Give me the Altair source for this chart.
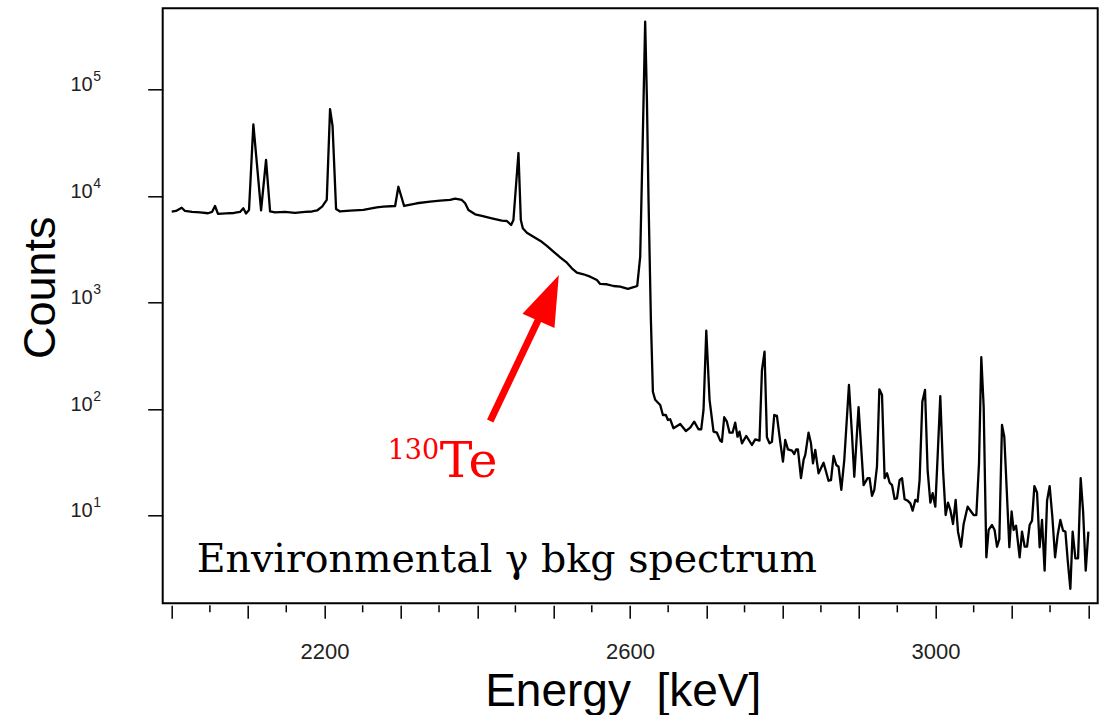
import altair as alt
import pandas as pd

# Gamma background spectrum: energy (keV) and counts per bin
energy_kev = [
    2000.0, 2005.6, 2013.1, 2017.4, 2026.6, 2037.1, 2047.5, 2052.8, 2056.7, 2060.6,
    2071.1, 2081.5, 2089.4, 2093.8, 2097.3, 2101.2, 2106.9, 2117.0, 2123.5, 2128.8,
    2135.3, 2148.4, 2161.5, 2174.6, 2183.8, 2190.3, 2196.9, 2203.0, 2207.3, 2210.6,
    2215.2, 2220.4, 2233.5, 2251.0, 2268.5, 2277.2, 2292.5, 2296.8, 2304.3, 2320.9,
    2338.3, 2351.4, 2364.5, 2371.1, 2379.8, 2384.2, 2388.5, 2397.3, 2406.0, 2419.1,
    2432.2, 2438.8, 2444.4, 2447.4, 2454.0, 2457.1, 2459.7, 2465.0, 2473.6, 2482.4,
    2491.2, 2499.8, 2508.6, 2517.4, 2523.9, 2530.5, 2539.1, 2547.9, 2556.7, 2561.0,
    2569.8, 2578.4, 2587.2, 2597.3, 2606.9, 2609.5, 2613.4, 2616.9, 2619.9, 2622.2,
    2624.3, 2627.4, 2630.0, 2633.0, 2639.6, 2643.1, 2647.0, 2649.7, 2652.7, 2657.0,
    2665.8, 2673.2, 2678.9, 2684.1, 2689.7, 2693.3, 2696.3, 2699.9, 2704.2, 2709.4,
    2713.8, 2718.2, 2720.4, 2723.4, 2726.9, 2730.4, 2734.3, 2737.8, 2740.8, 2743.4,
    2746.6, 2752.2, 2759.7, 2764.0, 2769.6, 2772.8, 2776.2, 2779.3, 2782.7, 2785.9,
    2788.9, 2792.4, 2796.7, 2800.3, 2803.3, 2806.8, 2812.1, 2815.1, 2817.7, 2819.9,
    2823.9, 2827.3, 2829.5, 2833.8, 2837.0, 2839.6, 2842.6, 2846.9, 2853.5, 2860.0,
    2863.2, 2866.6, 2870.1, 2873.1, 2876.7, 2880.6, 2886.7, 2890.6, 2893.7, 2899.3,
    2905.9, 2911.1, 2913.7, 2916.9, 2919.9, 2923.4, 2926.5, 2930.0, 2933.4, 2936.6,
    2940.0, 2943.1, 2946.5, 2949.6, 2953.0, 2956.2, 2959.6, 2963.5, 2967.1, 2970.1,
    2973.6, 2976.6, 2979.2, 2982.8, 2986.3, 2989.7, 2993.3, 2996.3, 2999.8, 3002.8,
    3006.3, 3009.9, 3013.3, 3016.4, 3019.4, 3023.0, 3026.4, 3029.5, 3033.5, 3036.9,
    3042.1, 3046.6, 3049.9, 3053.5, 3057.0, 3060.0, 3063.1, 3066.6, 3069.6, 3074.0,
    3077.4, 3080.6, 3083.6, 3087.1, 3090.1, 3093.7, 3096.7, 3099.7, 3102.3, 3105.5,
    3110.2, 3113.3, 3116.8, 3119.9, 3123.3, 3126.4, 3129.5, 3133.0, 3136.4, 3139.5,
    3142.9, 3146.1, 3149.5, 3153.0, 3156.6, 3160.0, 3163.5, 3167.1, 3170.1, 3173.1,
    3176.6, 3179.6, 3183.2, 3186.7, 3190.1, 3193.3, 3196.7, 3200.2,
]
counts = [
    7130, 7230, 7760, 7230, 7080, 7000, 6880, 7080, 8050, 6780,
    6850, 6920, 7080, 7660, 6850, 7390, 47100, 7310, 21800, 7150,
    7000, 7080, 6950, 7080, 7150, 7310, 7930, 9170, 65200, 45400,
    7550, 7150, 7280, 7390, 7830, 7930, 8050, 12200, 8050, 8540,
    8840, 9040, 9170, 9430, 9170, 8540, 7390, 6730, 6490, 6170,
    5860, 5820, 5340, 5950, 25300, 5950, 4970, 4520, 4150, 3805,
    3393, 2999, 2657, 2364, 2095, 1905, 1840, 1747, 1627, 1492,
    1482, 1428, 1407, 1339, 1407, 1428, 2692, 39040, 433000, 79680,
    9170, 685, 145, 122, 109, 87.8, 87.8, 78.8, 80.0, 65.9,
    72.3, 62.1, 66.7, 76.0, 64.5, 64.5, 97.9, 543, 122, 61.2,
    59.9, 50.4, 49.3, 83.6, 76.0, 59.9, 59.9, 74.4, 54.9, 61.2,
    47.6, 55.8, 45.9, 51.9, 50.4, 232, 345, 54.2, 47.6, 49.3,
    87.8, 86.0, 49.3, 32.0, 51.2, 41.8, 40.6, 37.8, 41.8, 41.8,
    22.4, 33.2, 37.0, 59.9, 47.6, 30.9, 41.2, 24.9, 31.3, 21.2,
    21.5, 36.2, 29.8, 28.7, 17.4, 33.2, 168, 59.1, 23.1, 104,
    19.3, 22.4, 22.4, 15.3, 17.4, 28.7, 153, 135, 22.4, 24.9,
    20.3, 19.3, 14.3, 14.5, 21.5, 22.4, 14.2, 13.8, 13.0, 11.1,
    14.0, 13.5, 21.5, 117, 151, 26.7, 13.2, 16.2, 12.1, 35.7,
    132, 26.7, 10.1, 13.2, 11.3, 8.32, 14.0, 7.05, 5.09, 8.32,
    12.1, 10.9, 10.1, 10.1, 30.9, 306, 105, 4.05, 7.31, 8.14,
    7.31, 5.09, 5.98, 70.8, 54.9, 15.0, 5.03, 10.9, 7.31, 8.02,
    4.05, 7.05, 5.09, 5.09, 8.14, 8.94, 18.9, 16.4, 5.03, 9.07,
    3.03, 13.8, 18.9, 9.74, 4.05, 6.56, 9.07, 7.20, 7.05, 3.82,
    2.05, 7.05, 3.96, 3.96, 22.4, 10.9, 3.03, 7.05,
]

# Axis decorations
decades = [10, 100, 1000, 10000, 100000]
decade_exponents = ["1", "2", "3", "4", "5"]
major_ticks = list(range(2000, 3201, 100))
minor_ticks = list(range(2050, 3200, 100))

# Arrow pointing at the 130Te region (energy keV, counts)
arrow_tail = [2417.0, 77.0]
arrow_head = [2493.5, 1102.0]

W, H = 935, 595
SANS = "Liberation Sans, Arial, Helvetica, sans-serif"
SERIF = "DejaVu Serif, serif"

x_scale = alt.Scale(domain=[1988.2, 3212.4], nice=False, zero=False)
y_scale = alt.Scale(type="log", domain=[1.498, 578000], nice=False)

# Shared axis definitions, reused by every layer so that they merge cleanly
x_axis = alt.Axis(
    values=major_ticks,
    format="d",
    labelExpr="(datum.value == 2200 || datum.value == 2600 || datum.value == 3000) ? datum.label : ''",
    domain=False,
    grid=False,
    offset=2,
    tickSize=13,
    tickWidth=1.5,
    tickColor="black",
    labelFont=SANS,
    labelFontSize=22,
    labelColor="#222222",
    labelPadding=23,
    labelFlush=False,
    labelOverlap=False,
    title="Energy\u00a0\u00a0[keV]",
    titleFont=SANS,
    titleFontSize=46,
    titleFontWeight="normal",
    titleColor="black",
    titleX=460,
    titleY=100.5,
    titleAlign="center",
    titleBaseline="alphabetic",
)
y_axis = alt.Axis(
    values=decades,
    labels=False,
    domain=False,
    grid=False,
    tickSize=15,
    tickWidth=1.5,
    tickColor="black",
    title="Counts",
    titleFont=SANS,
    titleFontSize=45,
    titleFontWeight="normal",
    titleColor="black",
    titleAngle=270,
    titleX=-108,
    titleY=279,
    titleAlign="center",
    titleBaseline="alphabetic",
)

spec_df = pd.DataFrame({"energy": energy_kev, "counts": counts})

spectrum = alt.Chart(spec_df).mark_line(
    color="black", strokeWidth=2.3, strokeJoin="round"
).encode(
    x=alt.X("energy:Q", scale=x_scale, axis=x_axis),
    y=alt.Y("counts:Q", scale=y_scale, axis=y_axis),
)

# Minor ticks between the 100 keV ticks
minor = alt.Chart(pd.DataFrame({"t": minor_ticks})).mark_rule(
    color="black", strokeWidth=1.5
).encode(
    x=alt.X("t:Q", scale=x_scale, axis=x_axis),
    y=alt.value(H + 2),
    y2=alt.value(H + 9),
)

# Power-of-ten tick labels: base "10" plus a raised exponent
ylab_df = pd.DataFrame({"v": decades, "e": decade_exponents})
ten = alt.Chart(ylab_df).mark_text(
    text="10", align="right", baseline="alphabetic", font=SANS,
    fontSize=20, color="#222222", dy=2,
).encode(
    x=alt.value(-70),
    y=alt.Y("v:Q", scale=y_scale, axis=y_axis),
)
expo = alt.Chart(ylab_df).mark_text(
    align="left", baseline="alphabetic", font=SANS,
    fontSize=14, color="#222222", dy=-8,
).encode(
    x=alt.value(-69.5),
    y=alt.Y("v:Q", scale=y_scale, axis=y_axis),
    text="e:N",
)

# Red arrow: shaft plus a rotated triangular head
arrow_df = pd.DataFrame({
    "e0": [arrow_tail[0]], "c0": [arrow_tail[1]],
    "e1": [arrow_head[0]], "c1": [arrow_head[1]],
})
shaft = alt.Chart(arrow_df).mark_rule(color="#ff0000", strokeWidth=7).encode(
    x=alt.X("e0:Q", scale=x_scale, axis=x_axis),
    y=alt.Y("c0:Q", scale=y_scale, axis=y_axis),
    x2="e1:Q",
    y2="c1:Q",
)
head = alt.Chart(arrow_df).mark_point(
    shape="M0,-1L0.7,1L-0.7,1Z", size=2500, filled=True,
    color="#ff0000", opacity=1, angle=24, strokeWidth=0,
).encode(
    x=alt.X("e1:Q", scale=x_scale, axis=x_axis),
    y=alt.Y("c1:Q", scale=y_scale, axis=y_axis),
)

one = pd.DataFrame({"k": [0]})
te_mass = alt.Chart(one).mark_text(
    text="130", font=SERIF, fontSize=27, color="#ff0000",
    align="right", baseline="alphabetic",
).encode(x=alt.value(276.5), y=alt.value(451))
te_sym = alt.Chart(one).mark_text(
    text="Te", font=SERIF, fontSize=49, color="#ff0000",
    align="left", baseline="alphabetic",
).encode(x=alt.value(277), y=alt.value(469))
label = alt.Chart(one).mark_text(
    text="Environmental \u03b3 bkg spectrum", font=SERIF, fontSize=39.5,
    color="black", align="left", baseline="alphabetic",
).encode(x=alt.value(34), y=alt.value(564))

chart = alt.layer(
    spectrum, minor, ten, expo, shaft, head, te_mass, te_sym, label
).properties(
    width=W,
    height=H,
    autosize=alt.AutoSizeParams(type="none"),
    padding={"left": 162.7, "top": 8.3, "right": 1.3, "bottom": 111.7},
    background="white",
).configure_view(
    stroke="black", strokeWidth=2
)

chart.save("out.html", embed_options={"renderer": "svg", "actions": False})
